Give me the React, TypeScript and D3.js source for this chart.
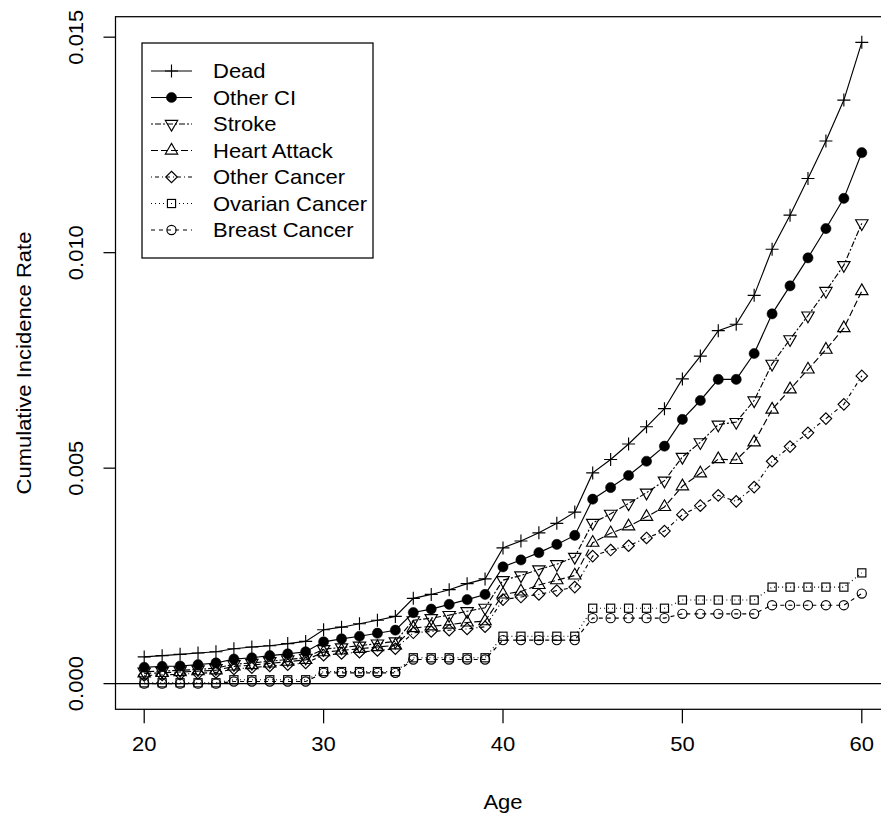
import React from "react";
import * as d3 from "d3";

const ages = [20,21,22,23,24,25,26,27,28,29,30,31,32,33,34,35,36,37,38,39,40,41,42,43,44,45,46,47,48,49,50,51,52,53,54,55,56,57,58,59,60];

const dead = [0.00062,0.00065,0.00068,0.00071,0.00074,0.00081,0.00085,0.00088,0.00093,0.00098,
  0.00125,0.00131,0.00139,0.00147,0.00156,0.00198,0.00207,0.00218,0.00232,0.00243,
  0.00315,0.00331,0.00350,0.00372,0.00398,0.00489,0.00520,0.00556,0.00596,0.00638,
  0.00707,0.00760,0.00819,0.00834,0.00901,0.01008,0.01087,0.01172,0.01259,0.01354,0.01488];

const otherCI = [0.00038,0.00040,0.00041,0.00044,0.00048,0.00057,0.00060,0.00065,0.00069,0.00074,
  0.00097,0.00104,0.00110,0.00117,0.00124,0.00165,0.00173,0.00184,0.00195,0.00207,
  0.00271,0.00287,0.00304,0.00323,0.00344,0.00428,0.00455,0.00483,0.00516,0.00551,
  0.00613,0.00657,0.00706,0.00706,0.00766,0.00858,0.00923,0.00988,0.01056,0.01126,0.01232];

const stroke = [0.00028,0.00029,0.00031,0.00033,0.00036,0.00045,0.00048,0.00052,0.00056,0.00060,
  0.00080,0.00084,0.00088,0.00093,0.00098,0.00147,0.00152,0.00159,0.00168,0.00176,
  0.00240,0.00251,0.00265,0.00277,0.00294,0.00373,0.00394,0.00418,0.00443,0.00471,
  0.00526,0.00560,0.00601,0.00607,0.00657,0.00742,0.00799,0.00854,0.00911,0.00971,0.01068];

const heartAttack = [0.00024,0.00025,0.00027,0.00029,0.00031,0.00040,0.00043,0.00047,0.00051,0.00055,
  0.00073,0.00077,0.00081,0.00085,0.00089,0.00129,0.00133,0.00137,0.00142,0.00145,
  0.00207,0.00214,0.00229,0.00240,0.00251,0.00327,0.00349,0.00365,0.00387,0.00410,
  0.00458,0.00488,0.00521,0.00519,0.00560,0.00636,0.00683,0.00729,0.00775,0.00825,0.00911];

const otherCancer = [0.00019,0.00020,0.00022,0.00024,0.00026,0.00034,0.00037,0.00041,0.00044,0.00048,
  0.00066,0.00070,0.00073,0.00077,0.00081,0.00118,0.00121,0.00124,0.00127,0.00132,
  0.00195,0.00201,0.00207,0.00216,0.00224,0.00296,0.00310,0.00320,0.00338,0.00354,
  0.00392,0.00413,0.00437,0.00423,0.00456,0.00516,0.00550,0.00582,0.00615,0.00648,0.00714];

const ovarianCancer = [0.00002,0.00002,0.00002,0.00002,0.00002,0.00009,0.00009,0.00009,0.00009,0.00009,
  0.00028,0.00028,0.00028,0.00028,0.00028,0.00060,0.00060,0.00060,0.00060,0.00060,
  0.00110,0.00110,0.00110,0.00110,0.00110,0.00175,0.00175,0.00175,0.00175,0.00175,
  0.00194,0.00194,0.00194,0.00194,0.00194,0.00224,0.00224,0.00224,0.00224,0.00224,0.00257];

const breastCancer = [0.00000,0.00000,0.00000,0.00000,0.00000,0.00005,0.00005,0.00005,0.00005,0.00005,
  0.00025,0.00025,0.00025,0.00025,0.00025,0.00056,0.00056,0.00056,0.00056,0.00056,
  0.00101,0.00101,0.00101,0.00101,0.00101,0.00152,0.00152,0.00152,0.00152,0.00152,
  0.00162,0.00162,0.00162,0.00162,0.00162,0.00182,0.00182,0.00182,0.00182,0.00182,0.00209];

const seriesNames = ["Dead","Other CI","Stroke","Heart Attack","Other Cancer","Ovarian Cancer","Breast Cancer"];
const seriesValues = [dead, otherCI, stroke, heartAttack, otherCancer, ovarianCancer, breastCancer];
const seriesPch = ["plus","dot","tridown","triup","diamond","square","circle"];
const seriesDash = ["", "", "2,2,6,2", "7,3", "1,3,4,3", "1,3", "4,4"];

const xTicks = [20,30,40,50,60];
const yTicks = [0,0.005,0.010,0.015];
const yTickLabels = ["0.000","0.005","0.010","0.015"];

const W = 881, H = 822;
const L = 115.5, T = 16.7, B = 709.3, R = 890.5;
const FONT = "'Liberation Sans', Arial, Helvetica, sans-serif";
const FS = 20;
const SX = 1.1;
const XC = 4.6;

function Marker({ type, x, y }: { type: string; x: number; y: number }) {
  const sw = 1.15;
  if (type === "plus") {
    const h = Math.SQRT2 * XC;
    return <path d={`M${x - h},${y}H${x + h}M${x},${y - h}V${y + h}`} stroke="#000" strokeWidth={sw} fill="none" />;
  }
  if (type === "dot") {
    return <circle cx={x} cy={y} r={XC + 0.5} fill="#000" stroke="#000" strokeWidth={0.5} />;
  }
  if (type === "circle") {
    return <circle cx={x} cy={y} r={XC} fill="none" stroke="#000" strokeWidth={sw} />;
  }
  if (type === "square") {
    const h = XC * 0.8862;
    return <rect x={x - h} y={y - h} width={2 * h} height={2 * h} fill="none" stroke="#000" strokeWidth={sw} />;
  }
  if (type === "diamond") {
    const h = XC * 1.2533;
    return <path d={`M${x},${y - h}L${x + h},${y}L${x},${y + h}L${x - h},${y}Z`} fill="none" stroke="#000" strokeWidth={sw} />;
  }
  const r = 1.5551 * XC;
  const xc = 1.3468 * XC;
  const yc = 0.7776 * XC;
  if (type === "triup") {
    return <path d={`M${x},${y - r}L${x + xc},${y + yc}L${x - xc},${y + yc}Z`} fill="none" stroke="#000" strokeWidth={sw} />;
  }
  return <path d={`M${x},${y + r}L${x + xc},${y - yc}L${x - xc},${y - yc}Z`} fill="none" stroke="#000" strokeWidth={sw} />;
}

export default function App() {
  const ymax = d3.max(dead) as number;
  const yr = ymax - 0;
  const x = d3.scaleLinear().domain([18.4, 61.6]).range([L, R]);
  const y = d3.scaleLinear().domain([0 - 0.04 * yr, ymax + 0.04 * yr]).range([B, T]);
  const line = d3.line<number>().x((_, i) => x(ages[i])).y((d) => y(d));

  const legX = 142, legY = 43, legW = 231, legH = 215;
  const rowY0 = 71, rowStep = 26.5;

  return (
    <svg width={W} height={H} style={{ display: "block", position: "absolute", left: 0, top: 0 }} xmlns="http://www.w3.org/2000/svg">
      <rect x={0} y={0} width={W} height={H} fill="#fff" />
      <defs>
        <clipPath id="plotclip">
          <rect x={L} y={T} width={R - L} height={B - T} />
        </clipPath>
      </defs>
      <g clipPath="url(#plotclip)">
        <line x1={L} x2={R} y1={y(0)} y2={y(0)} stroke="#000" strokeWidth={1.15} />
        {seriesValues.map((vals, si) => (
          <path key={"l" + si} d={line(vals) || ""} fill="none" stroke="#000" strokeWidth={1.15} strokeDasharray={seriesDash[si] || undefined} />
        ))}
        {seriesValues.map((vals, si) => (
          <g key={"m" + si}>
            {vals.map((v, i) => (
              <Marker key={i} type={seriesPch[si]} x={x(ages[i])} y={y(v)} />
            ))}
          </g>
        ))}
      </g>
      <rect x={L} y={T} width={R - L} height={B - T} fill="none" stroke="#000" strokeWidth={1.25} />
      {xTicks.map((t) => (
        <g key={"xt" + t}>
          <line x1={x(t)} x2={x(t)} y1={B} y2={B + 14} stroke="#000" strokeWidth={1.25} />
          <text transform={`translate(${x(t)},750.5) scale(${SX},1)`} textAnchor="middle" fontFamily={FONT} fontSize={FS}>{t}</text>
        </g>
      ))}
      {yTicks.map((t, i) => (
        <g key={"yt" + i}>
          <line x1={L} x2={L - 12} y1={y(t)} y2={y(t)} stroke="#000" strokeWidth={1.25} />
          <text transform={`translate(83,${y(t)}) rotate(-90) scale(${SX},1)`} textAnchor="middle" fontFamily={FONT} fontSize={FS}>{yTickLabels[i]}</text>
        </g>
      ))}
      <text transform={`translate(${(L + R) / 2},809) scale(${SX},1)`} textAnchor="middle" fontFamily={FONT} fontSize={FS}>Age</text>
      <text transform={`translate(31,${(T + B) / 2}) rotate(-90) scale(${SX},1)`} textAnchor="middle" fontFamily={FONT} fontSize={FS}>Cumulative Incidence Rate</text>

      <rect x={legX} y={legY} width={legW} height={legH} fill="#fff" stroke="#000" strokeWidth={1.25} />
      {seriesNames.map((name, si) => {
        const ry = rowY0 + si * rowStep;
        return (
          <g key={"lg" + si}>
            <line x1={151} x2={192} y1={ry} y2={ry} stroke="#000" strokeWidth={1.15} strokeDasharray={seriesDash[si] || undefined} />
            <Marker type={seriesPch[si]} x={171.5} y={ry} />
            <text transform={`translate(213,${ry + 7.2}) scale(${SX},1)`} fontFamily={FONT} fontSize={FS}>{name}</text>
          </g>
        );
      })}
    </svg>
  );
}
